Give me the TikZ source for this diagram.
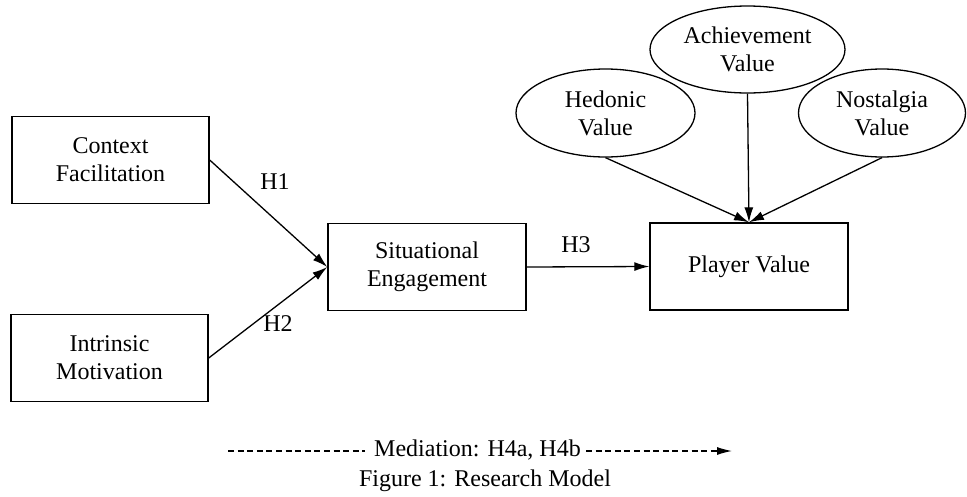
\documentclass[tikz,border=0pt]{standalone}
\usepackage{fontspec}
\setmainfont{Liberation Serif}
\usetikzlibrary{shapes.geometric,arrows.meta}
\tikzset{
  boxnode/.style={draw, line width=1.4pt, rectangle, minimum width=197pt, minimum height=87pt, inner sep=0pt, align=center},
  ovalnode/.style={draw, line width=1.3pt, ellipse, inner sep=0pt, align=center},
  lbl/.style={inner sep=0pt},
  link/.style={line width=1.3pt, -{Latex[length=15pt,width=9pt]}},
  medline/.style={line width=1.2pt, dash pattern=on 6pt off 3.6pt},
}
\begin{document}
\begin{tikzpicture}[x=1pt,y=-1pt, font=\fontsize{24}{28}\selectfont]
\useasboundingbox (0,0) rectangle (967,496);
\node[boxnode] (cf) at (110.5,160) {Context\\Facilitation};
\node[boxnode] (im) at (109.5,358) {Intrinsic\\Motivation};
\node[boxnode, minimum width=198pt] (se) at (427,267) {Situational\\Engagement};
\node[boxnode, minimum width=198pt] (pv) at (749,266.5) {Player Value};
\node[ovalnode, minimum width=179pt, minimum height=88pt] (hv) at (605.5,113) {Hedonic\\Value};
\node[ovalnode, minimum width=195pt, minimum height=87pt] (av) at (747.5,49.5) {Achievement\\Value};
\node[ovalnode, minimum width=167pt, minimum height=88pt] (nv) at (882,113) {Nostalgia\\Value};
\draw[link] (cf.east) -- (se.west);
\draw[link] (im.east) -- (se.west);
\draw[link] (se.east) -- (pv.west);
\draw[link] (hv.south) -- (pv.north);
\draw[link] (av.south) -- (pv.north);
\draw[link] (nv.south) -- (pv.north);
\node[lbl] (h1) at (275,182) {H1};
\node[lbl] (h2) at (278,324) {H2};
\node[lbl] (h3) at (576,245) {H3};
\node[lbl] (med) at (477.5,450) {Mediation: H4a, H4b};
\coordinate (mstart) at (228,451);
\coordinate (mend) at (732,451);
\draw[medline] (mstart) -- ([xshift=-9pt]mstart -| med.west);
\draw[medline, -{Latex[length=15pt,width=8pt]}] ([xshift=5pt]mend -| med.east) -- (mend);
\node[lbl] (cap) at (485,481) {Figure 1: Research Model};
\end{tikzpicture}
\end{document}
